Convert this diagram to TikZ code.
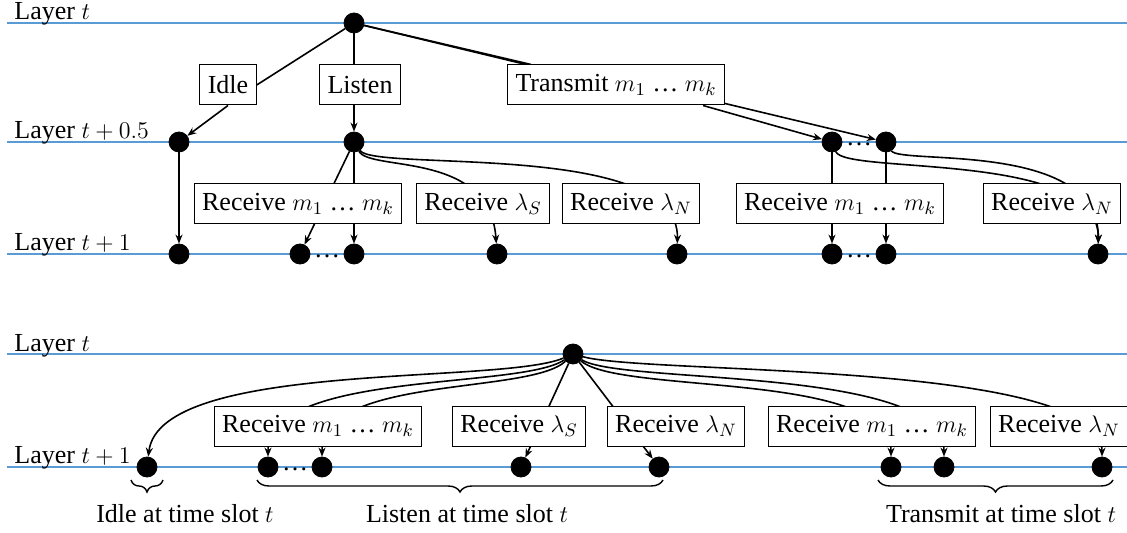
\documentclass[tikz,border=0pt]{standalone}
\usepackage{fontspec}
\setmainfont{Liberation Serif}
\usetikzlibrary{arrows.meta,calc,backgrounds,decorations.pathreplacing}
\definecolor{layblue}{RGB}{91,155,213}
\tikzset{
    vtx/.style={shape=circle, draw=black, fill=black, inner sep=0pt, minimum size=10pt},
    act/.style={draw=black, fill=white, line width=0.5pt, inner xsep=4pt, minimum height=20pt},
    lay/.style={draw=layblue, line width=0.7pt},
    lbl/.style={anchor=base west, inner sep=0pt},
    con/.style={draw=black, line width=0.8pt},
    arr/.style={con, -{Stealth[length=4.5pt,width=3.5pt]}},
    brc/.style={draw=black, line width=0.7pt, decorate, decoration={brace, mirror, amplitude=6pt}}
}
\begin{document}
\begin{tikzpicture}[x=0.5pt, y=-0.5pt, font=\fontsize{13pt}{15pt}\selectfont]
    \useasboundingbox (0,0) rectangle (1127,533);

    % layer names
    \node[lbl] (lt) at (14,20) {Layer $t$};
    \node[lbl] (lh) at (14,139) {Layer $t+0.5$};
    \node[lbl] (l1) at (14,251) {Layer $t+1$};
    \node[lbl] (blt) at (14,351) {Layer $t$};
    \node[lbl] (bl1) at (14,463) {Layer $t+1$};

    % two step tree
    \node[vtx] (r) at (354,23) {};
    \foreach \n/\x in {hi/179, hl/354, h1/832, h2/886}
        \node[vtx] (\n) at (\x,142) {};
    \foreach \n/\x in {i/179, l1/300, l2/354, ls/497, ln/677, m1/832, m2/886, n/1098}
        \node[vtx] (\n) at (\x,254) {};
    \node[inner sep=0pt] (hd) at (859,144) {…};
    \node[inner sep=0pt] (ld) at (327,256) {…};
    \node[inner sep=0pt] (md) at (859,256) {…};

    \node[act] (idle) at (228,85) {Idle};
    \node[act] (listen) at (360,85) {Listen};
    \node[act] (tr) at (616,85) {Transmit $m_1$ … $m_k$};
    \node[act] (rm) at (298,204) {Receive $m_1$ … $m_k$};
    \node[act] (rs) at (483,204) {Receive $\lambda_S$};
    \node[act] (rn) at (631,204) {Receive $\lambda_N$};
    \node[act] (trm) at (840,204) {Receive $m_1$ … $m_k$};
    \node[act] (trn) at (1052,204) {Receive $\lambda_N$};

    % one step tree
    \node[vtx] (R) at (573,354) {};
    \foreach \n/\x in {bi/147, bm/268, bk/322, bs/521, bn/659, bt/891, bu/944, bN/1102}
        \node[vtx] (\n) at (\x,467) {};
    \node[inner sep=0pt] (bd) at (295,469) {…};

    \node[act] (brm) at (318,426) {Receive $m_1$ … $m_k$};
    \node[act] (brs) at (519,426) {Receive $\lambda_S$};
    \node[act] (brn) at (676,426) {Receive $\lambda_N$};
    \node[act] (btm) at (872,426) {Receive $m_1$ … $m_k$};
    \node[act] (btn) at (1059,426) {Receive $\lambda_N$};

    \draw[brc] (131,480) -- (163,480);
    \draw[brc] (257,480) -- (663,480);
    \draw[brc] (878,480) -- (1113,480);
    \node[anchor=base] (ti) at (185,522) {Idle at time slot $t$};
    \node[anchor=base] (tl) at (467,522) {Listen at time slot $t$};
    \node[anchor=base] (tt) at (1001,522) {Transmit at time slot $t$};

    \begin{scope}[on background layer]
        \foreach \y in {23,142,254,354,467}
            \draw[lay] (7,\y) -- (1127,\y);

        \draw[con] (r) -- (idle.east);
        \draw[arr] (idle.south) -- (hi);
        \draw[arr] (r) -- (hl);
        \draw[con] (r) -- ($(tr.north west)+(19,0)$);
        \draw[con] (r) -- ($(tr.north west)+(24,0)$);
        \draw[arr] ($(tr.south east)+(-22,0)$) -- (h1);
        \draw[arr] ($(tr.south east)+(0,-2)$) -- (h2);

        \draw[arr] (hi) -- (i);
        \draw[arr] (hl) -- (l1);
        \draw[arr] (hl) -- (l2);
        \draw[arr] (hl) .. controls +(16,30) and +(-7,-104) .. (ls);
        \draw[arr] (hl) .. controls +(21,30) and +(3,-114) .. (ln);
        \draw[arr] (h1) -- (m1);
        \draw[arr] (h2) -- (m2);
        \draw[arr] (h1) .. controls +(13,33) and +(2,-104) .. (n);
        \draw[arr] (h2) .. controls +(14,23) and +(2,-114) .. (n);

        \draw[arr] (R) .. controls +(-73,31) and +(13,-107) .. (bi);
        \draw[arr] (R) .. controls +(-53,36) and +(0,-97) .. (bm);
        \draw[arr] (R) .. controls +(-43,41) and +(0,-92) .. (bk);
        \draw[arr] (R) -- (bs);
        \draw[arr] (R) -- (bn);
        \draw[arr] (R) .. controls +(47,41) and +(0,-97) .. (bt);
        \draw[arr] (R) .. controls +(47,31) and +(0,-102) .. (bu);
        \draw[arr] (R) .. controls +(77,21) and +(0,-107) .. (bN);
    \end{scope}
\end{tikzpicture}
\end{document}
